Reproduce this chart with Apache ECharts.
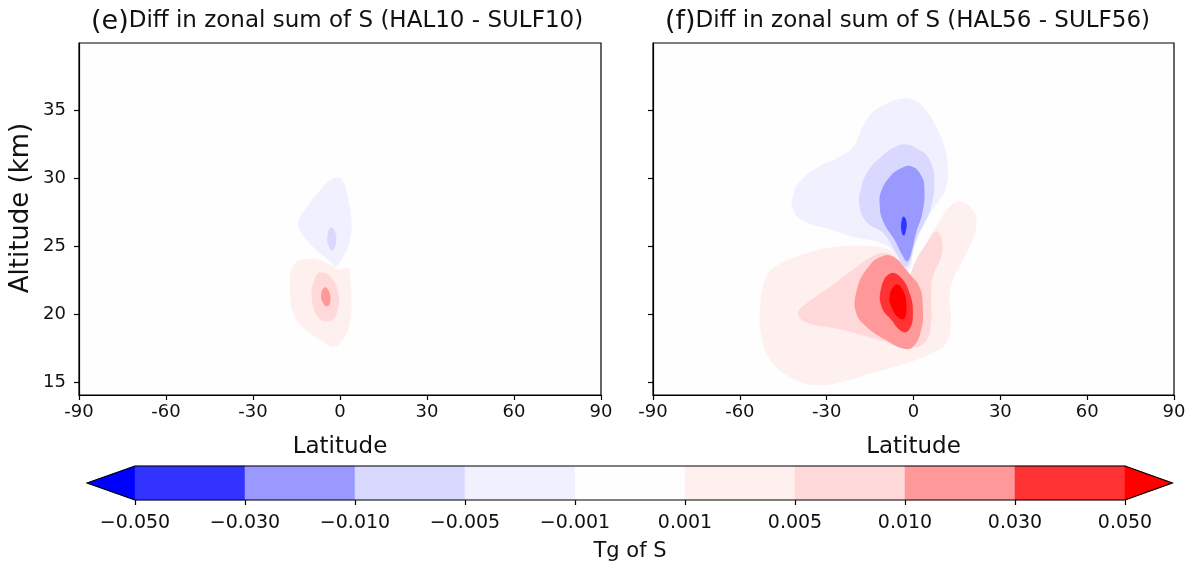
<!DOCTYPE html>
<html><head><meta charset="utf-8">
<script src="https://cdn.jsdelivr.net/npm/echarts@6/dist/echarts.min.js"></script>
<style>html,body{margin:0;padding:0;background:#fff}#c{width:1195px;height:565px}</style>
</head><body><div id="c"></div>
<script>
// ---------- data ----------
const latTicks = [-90, -60, -30, 0, 30, 60, 90];
const altTicks = [15, 20, 25, 30, 35];
const cbLabels = ['\u22120.050', '\u22120.030', '\u22120.010', '\u22120.005', '\u22120.001', '0.001', '0.005', '0.010', '0.030', '0.050'];
// colour of each band: <-0.05, [-0.05,-0.03], ... , >0.05
const cbColors = ['#0000ff', '#3333ff', '#9999ff', '#d9d9ff', '#f0f0ff', '#fefefe', '#fff0f0', '#ffd9d9', '#ff9999', '#ff3333', '#ff0000'];

// Panel (e): filled contour regions, [latitude, altitude km]
const eNeg0005 = [[-2.3,30.0],[0.6,29.9],[2.9,28.4],[4.0,26.7],[3.4,25.5],[1.7,24.5],[-1.7,23.5],[-3.4,23.9],[-8.0,24.7],[-12.7,25.8],[-14.4,26.8],[-12.1,27.7],[-6.9,29.1]];
const eNeg001 = [[-3.2,26.4],[-1.6,26.0],[-1.4,25.3],[-2.6,24.7],[-3.6,24.9],[-4.4,25.6]];
const ePos0001 = [[-16.1,23.6],[-10.3,24.1],[-4.6,23.8],[-0.6,23.3],[2.9,23.4],[3.4,22.8],[4.0,21.1],[3.4,19.4],[0.6,18.0],[-2.3,17.6],[-5.2,17.9],[-12.1,18.9],[-16.1,20.1],[-17.2,21.8]];
const ePos0005 = [[-6.9,23.1],[-3.4,22.8],[-0.6,21.6],[-1.1,20.1],[-3.4,19.5],[-7.5,19.8],[-9.8,21.3],[-8.6,22.7]];
const ePos001 = [[-5.2,22.0],[-3.8,21.7],[-3.3,21.0],[-4.2,20.6],[-5.8,20.8],[-6.5,21.5]];

// Panel (f)
const fNeg0001 = [[-6.0,35.8],[-0.2,35.8],[4.4,35.0],[7.8,33.8],[10.7,32.3],[11.8,30.9],[11.3,29.4],[9.0,28.4],[4.9,27.2],[2.1,26.0],[-0.2,24.5],[-1.4,23.3],[-3.7,23.6],[-7.1,24.7],[-11.7,25.3],[-20.9,25.7],[-27.8,26.2],[-38.2,26.9],[-41.6,27.7],[-41.6,28.8],[-38.7,29.9],[-32.4,30.9],[-25.5,31.6],[-20.9,32.3],[-17.5,33.8],[-14.0,34.9],[-9.4,35.5]];
const fNeg0005 = [[-2.5,32.5],[2.1,32.1],[5.5,31.4],[7.2,29.9],[6.1,27.9],[3.8,26.7],[0.9,25.5],[-1.4,23.8],[-3.1,23.5],[-6.0,24.5],[-10.6,26.0],[-15.8,26.7],[-18.6,27.9],[-18.0,29.4],[-15.2,30.7],[-10.6,31.7],[-6.6,32.3]];
const fNeg001 = [[-0.8,30.9],[2.7,30.2],[3.8,29.1],[3.0,27.4],[0.9,26.0],[-0.8,24.5],[-2.2,23.9],[-3.7,24.3],[-6.6,25.5],[-10.6,26.9],[-11.7,28.2],[-11.1,29.1],[-8.3,30.1],[-4.8,30.7]];
const fNeg003 = [[-3.4,27.2],[-2.4,26.8],[-2.6,26.2],[-3.4,25.8],[-4.2,26.2],[-4.1,26.9]];
const fPos0001 = [[15.9,28.3],[20.4,27.7],[21.8,26.7],[20.4,25.5],[17.0,24.0],[13.6,22.5],[12.4,21.1],[13.0,19.6],[11.3,17.9],[6.7,17.2],[-2.5,16.4],[-14.0,15.7],[-25.5,15.0],[-33.6,14.8],[-42.8,15.4],[-49.7,16.7],[-52.5,18.4],[-53.1,20.1],[-51.4,22.5],[-47.9,23.5],[-37.0,24.5],[-25.5,25.0],[-14.0,25.0],[-8.3,24.8],[-4.8,24.2],[-1.9,23.0],[0.2,23.4],[4.4,25.2],[9.0,26.9],[12.4,27.9]];
const fPos0005 = [[7.8,26.1],[9.8,25.5],[9.6,24.3],[6.7,22.8],[6.1,21.3],[6.1,19.4],[3.8,17.9],[-2.5,17.6],[-11.7,18.1],[-25.5,18.9],[-37.0,19.4],[-39.9,20.1],[-37.0,20.8],[-29.0,22.0],[-20.9,23.3],[-14.0,24.3],[-9.4,24.5],[-4.8,23.9],[-2.2,22.7],[0.9,24.0],[4.4,25.2]];
const fPos001 = [[-10.6,24.3],[-6.0,24.1],[-1.4,23.0],[2.1,22.0],[3.2,20.6],[2.7,18.9],[-0.2,17.6],[-3.7,17.5],[-9.4,18.1],[-16.3,19.1],[-19.8,20.1],[-19.8,21.6],[-16.3,23.3]];
const fPos003 = [[-8.3,23.0],[-4.8,22.8],[-1.4,21.6],[-0.2,20.1],[-1.4,18.9],[-3.7,18.7],[-7.7,19.6],[-11.1,20.6],[-11.1,22.0]];
const fPos005 = [[-6.0,22.2],[-3.7,21.8],[-2.5,20.8],[-3.1,19.7],[-4.8,19.7],[-7.1,20.3],[-8.3,21.3]];

// band index (into cbColors) of each region, drawn in this order
const panelE = [[ePos0001, 6], [ePos0005, 7], [ePos001, 8], [eNeg0005, 4], [eNeg001, 3]];
const panelF = [[fPos0001, 6], [fPos0005, 7], [fPos001, 8], [fPos003, 9], [fPos005, 10], [fNeg0001, 4], [fNeg0005, 3], [fNeg001, 2], [fNeg003, 1]];

// ---------- chart ----------
const FONT = 'DejaVu Sans';
const chart = echarts.init(document.getElementById('c'), null, {renderer: 'canvas'});

function contourSeries(list, gi) {
  return list.map(function (item, k) {
    const pts = item[0], band = item[1];
    return {
      type: 'custom', xAxisIndex: gi, yAxisIndex: gi, clip: true, silent: true, z: 2,
      data: pts, encode: {x: 0, y: 1},
      renderItem: function (params, api) {
        if (params.dataIndex !== 0) return null;
        return {
          type: 'polygon', z2: k,
          shape: {points: pts.map(function (p) { return api.coord(p); }), smooth: 0.45},
          style: {fill: cbColors[band], stroke: null}
        };
      }
    };
  });
}

function latAxis(gi) {
  return {
    gridIndex: gi, type: 'value', min: -90, max: 90, interval: 30,
    axisLine: {show: true, onZero: false, lineStyle: {color: '#000', width: 1.2}},
    axisTick: {show: true, length: 5, lineStyle: {color: '#000', width: 1.2}},
    axisLabel: {fontFamily: FONT, fontSize: 18, color: '#111', margin: 8},
    splitLine: {show: false},
    name: 'Latitude', nameLocation: 'middle', nameGap: 41,
    nameTextStyle: {fontFamily: FONT, fontSize: 23, color: '#111'}
  };
}
function altAxis(gi, labels) {
  return {
    gridIndex: gi, type: 'value', min: 14.07, max: 39.97,
    axisLine: {show: true, onZero: false, lineStyle: {color: '#000', width: 1.2}},
    axisTick: {show: true, length: 5, customValues: altTicks, lineStyle: {color: '#000', width: 1.2}},
    axisLabel: {show: labels, customValues: altTicks, fontFamily: FONT, fontSize: 18, color: '#111', margin: 13},
    splitLine: {show: false},
    name: labels ? 'Altitude (km)' : '', nameLocation: 'middle', nameGap: 45,
    nameTextStyle: {fontFamily: FONT, fontSize: 26, color: '#111', padding: [0, 0, 0, 22]}
  };
}

const cbSeries = {
  type: 'custom', xAxisIndex: 2, yAxisIndex: 2, clip: false, silent: true,
  data: cbColors.map(function (c, i) { return [i, 0]; }),
  renderItem: function (params, api) {
    const i = params.dataIndex;
    let pts;
    if (i === 0) pts = [[-0.435, 0.5], [0, 1], [0, 0]];
    else if (i === cbColors.length - 1) pts = [[9, 1], [9.43, 0.5], [9, 0]];
    else pts = [[i - 1, 0], [i - 1, 1], [i, 1], [i, 0]];
    return {type: 'polygon', shape: {points: pts.map(function (p) { return api.coord(p); })},
      style: {fill: cbColors[i], stroke: cbColors[i], lineWidth: 0.5}};
  }
};
const cbOutline = {
  type: 'custom', xAxisIndex: 2, yAxisIndex: 2, clip: false, silent: true, z: 5,
  data: [[0, 0]],
  renderItem: function (params, api) {
    const pts = [[-0.435, 0.5], [0, 1], [9, 1], [9.43, 0.5], [9, 0], [0, 0]];
    return {type: 'polygon', shape: {points: pts.map(function (p) { return api.coord(p); })},
      style: {fill: null, stroke: '#000', lineWidth: 1.2}};
  }
};

const titleRich = {
  p: {fontFamily: FONT, fontSize: 27, fontWeight: 'normal', color: '#111'},
  t: {fontFamily: FONT, fontSize: 23, fontWeight: 'normal', color: '#111'}
};

chart.setOption({
  animation: false,
  backgroundColor: '#ffffff',
  title: [
    {text: '{p|(e)}{t|Diff in zonal sum of S (HAL10 - SULF10)}', left: 86, top: 3, textStyle: {fontWeight: 'normal', rich: titleRich}},
    {text: '{p|(f)}{t|Diff in zonal sum of S (HAL56 - SULF56)}', left: 660, top: 3, textStyle: {fontWeight: 'normal', rich: titleRich}}
  ],
  grid: [
    {left: 79, top: 43, width: 522, height: 352, show: true, backgroundColor: '#fefefe', borderColor: '#000', borderWidth: 1.2},
    {left: 653, top: 43, width: 521, height: 352, show: true, backgroundColor: '#fefefe', borderColor: '#000', borderWidth: 1.2},
    {left: 135, top: 466, width: 990, height: 34}
  ],
  xAxis: [
    latAxis(0), latAxis(1),
    {gridIndex: 2, type: 'value', min: 0, max: 9, interval: 1,
     axisLine: {show: false}, splitLine: {show: false},
     axisTick: {show: true, length: 5, lineStyle: {color: '#000', width: 1.2}},
     axisLabel: {fontFamily: FONT, fontSize: 19, color: '#111', margin: 14,
       formatter: function (v) { return cbLabels[Math.round(v)]; }},
     name: 'Tg of S', nameLocation: 'middle', nameGap: 41,
     nameTextStyle: {fontFamily: FONT, fontSize: 21, color: '#111'}}
  ],
  yAxis: [
    altAxis(0, true), altAxis(1, false),
    {gridIndex: 2, type: 'value', min: 0, max: 1, show: false}
  ],
  series: [].concat(contourSeries(panelE, 0), contourSeries(panelF, 1), [cbSeries, cbOutline])
});
</script>
</body></html>
